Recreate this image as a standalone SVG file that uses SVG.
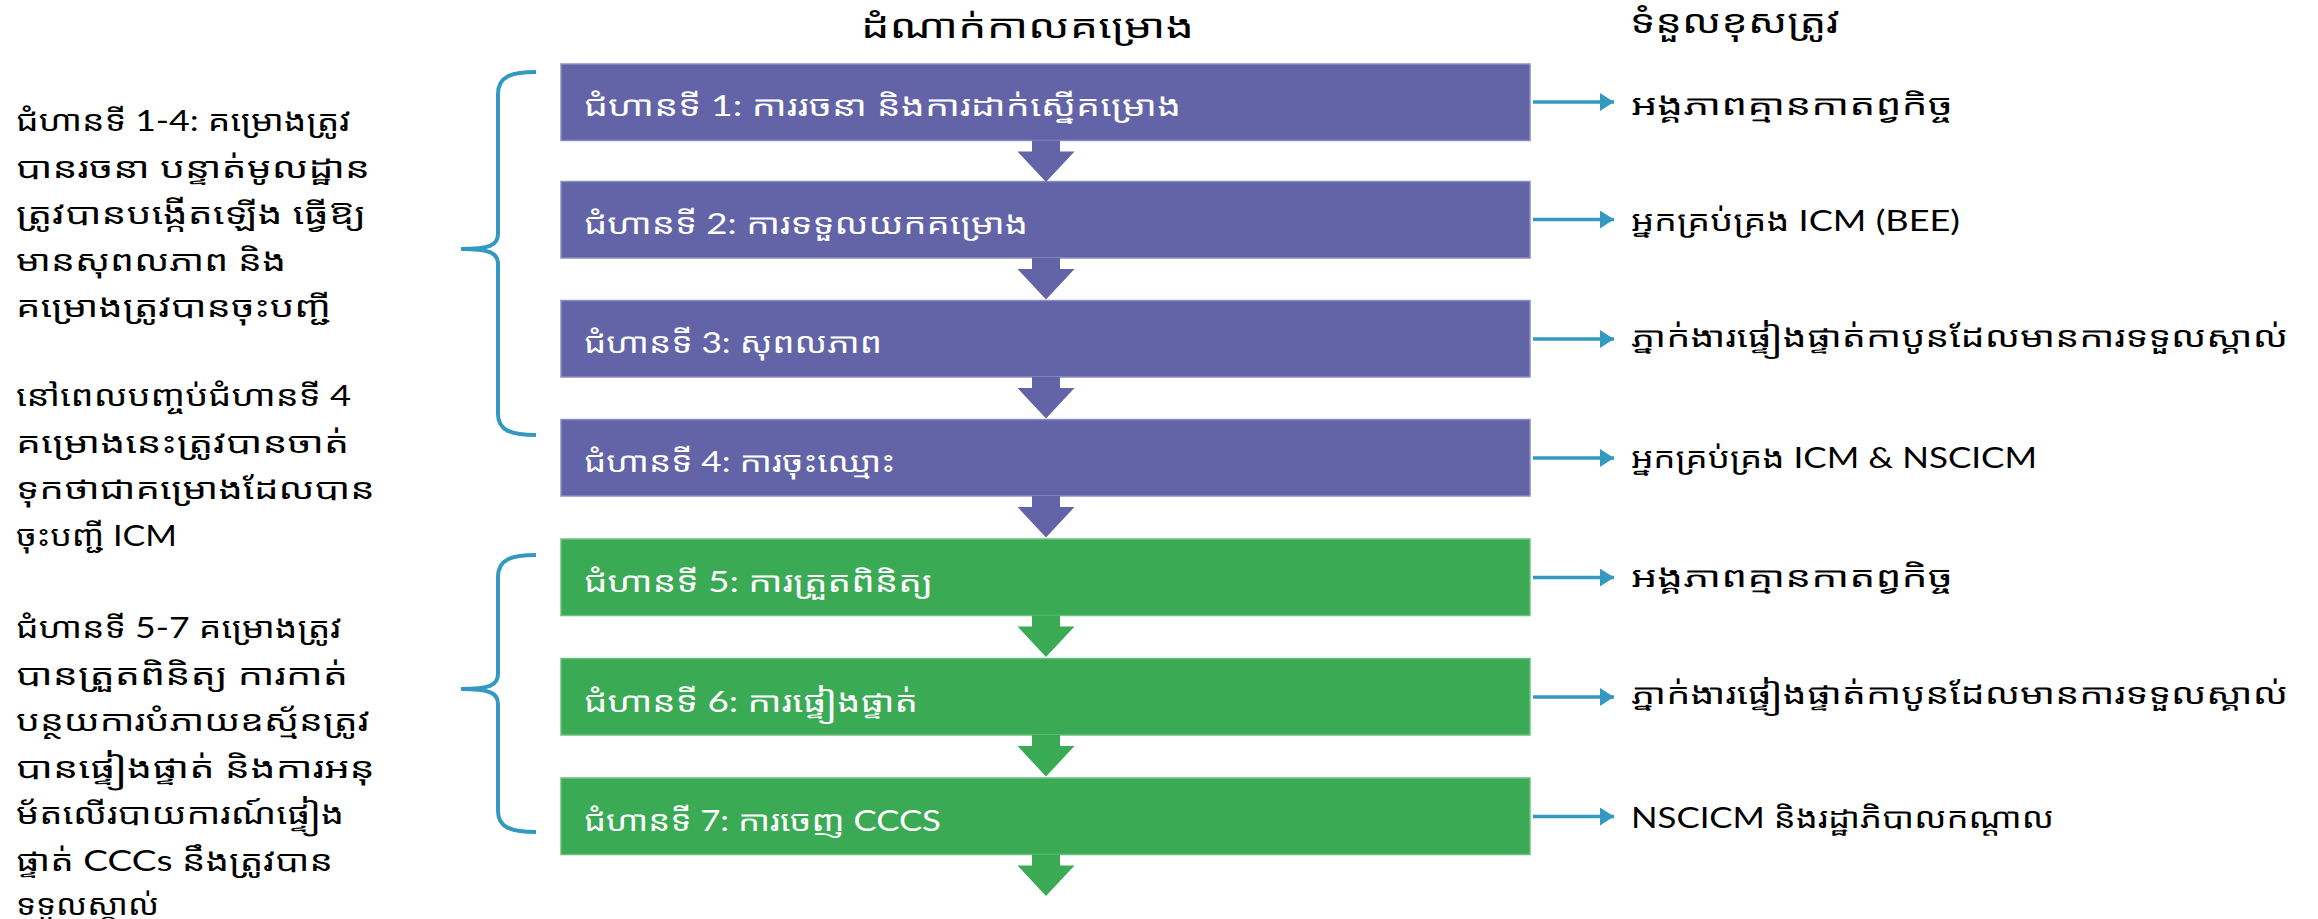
<svg xmlns="http://www.w3.org/2000/svg" width="2318" height="919" viewBox="0 0 2318 919">
<style>
text{font-family:Lato,"Noto Sans Khmer","Khmer OS System","Khmer OS",sans-serif;}
.box-p{fill:#6264A7;stroke:#8C8EC0;stroke-width:1.5}
.box-g{fill:#3AAA55;stroke:#6CC07F;stroke-width:1.5}
.bt{fill:#FFFFFF;font-size:28px}
.rt{fill:#000000;font-size:28px}
.lt{fill:#000000;font-size:29px}
.hd{fill:#000000;font-size:33px}
.dp{fill:#6264A7}
.dg{fill:#3AAA55}
.conn{stroke:#3399C0;stroke-width:3.5;fill:none}
.brace{stroke:#3399C0;stroke-width:4;fill:none;stroke-linecap:butt}
</style>
<defs>
<marker id="ah" markerUnits="userSpaceOnUse" markerWidth="16" markerHeight="18" refX="14" refY="9" orient="auto"><path d="M0,0 L14,9 L0,18 Z" fill="#3399C0"/></marker>
<path id="down" d="M-14,0 H14 V11 H28.5 L0,41.5 L-28.5,11 H-14 Z"/>
</defs>
<rect width="2318" height="919" fill="#FFFFFF"/>
<g id="headers">
<text class="hd" x="861" y="38" textLength="333" lengthAdjust="spacingAndGlyphs">ដំណាក់កាលគម្រោង</text>
<text class="hd" x="1630" y="33" textLength="210" lengthAdjust="spacingAndGlyphs">ទំនួលខុសត្រូវ</text>
</g>
<g id="left-notes">
<text class="lt" x="16" y="131" textLength="335" lengthAdjust="spacingAndGlyphs">ជំហានទី 1-4: គម្រោងត្រូវ</text>
<text class="lt" x="16" y="177.5" textLength="354" lengthAdjust="spacingAndGlyphs">បានរចនា បន្ទាត់មូលដ្ឋាន</text>
<text class="lt" x="16" y="224" textLength="350" lengthAdjust="spacingAndGlyphs">ត្រូវបានបង្កើតឡើង ធ្វើឱ្យ</text>
<text class="lt" x="16" y="270.5" textLength="270" lengthAdjust="spacingAndGlyphs">មានសុពលភាព និង</text>
<text class="lt" x="16" y="317" textLength="315" lengthAdjust="spacingAndGlyphs">គម្រោងត្រូវបានចុះបញ្ជី</text>
<text class="lt" x="16" y="406" textLength="335" lengthAdjust="spacingAndGlyphs">នៅពេលបញ្ចប់ជំហានទី 4</text>
<text class="lt" x="16" y="452.5" textLength="333" lengthAdjust="spacingAndGlyphs">គម្រោងនេះត្រូវបានចាត់</text>
<text class="lt" x="16" y="499" textLength="359" lengthAdjust="spacingAndGlyphs">ទុកថាជាគម្រោងដែលបាន</text>
<text class="lt" x="16" y="545.5" textLength="161" lengthAdjust="spacingAndGlyphs">ចុះបញ្ជី ICM</text>
<text class="lt" x="16" y="638" textLength="326" lengthAdjust="spacingAndGlyphs">ជំហានទី 5-7 គម្រោងត្រូវ</text>
<text class="lt" x="16" y="684.5" textLength="332" lengthAdjust="spacingAndGlyphs">បានត្រួតពិនិត្យ ការកាត់</text>
<text class="lt" x="16" y="731" textLength="354" lengthAdjust="spacingAndGlyphs">បន្ថយការបំភាយឧស្ម័នត្រូវ</text>
<text class="lt" x="16" y="777.5" textLength="359" lengthAdjust="spacingAndGlyphs">បានផ្ទៀងផ្ទាត់ និងការអនុ</text>
<text class="lt" x="16" y="824" textLength="328" lengthAdjust="spacingAndGlyphs">ម័តលើរបាយការណ៍ផ្ទៀង</text>
<text class="lt" x="16" y="870.5" textLength="317" lengthAdjust="spacingAndGlyphs">ផ្ទាត់ CCCs នឹងត្រូវបាន</text>
<text class="lt" x="16" y="915" textLength="143" lengthAdjust="spacingAndGlyphs">ទទួលស្គាល់</text>
</g>
<g id="braces">
<path class="brace" d="M536,72 C512,72 498,76 498,94 L498,234 C498,245 490,249 461,249 C490,249 498,253 498,264 L498,414 C498,431 512,435 536,435"/>
<path class="brace" d="M536,555 C512,555 498,559 498,577 L498,674 C498,685 490,689 461,689 C490,689 498,693 498,704 L498,811 C498,828 512,832 536,832"/>
</g>
<g id="step1"><rect class="box-p" x="561" y="64" width="969" height="76.5"/><text class="bt" x="584" y="116" textLength="597" lengthAdjust="spacingAndGlyphs">ជំហានទី 1: ការរចនា និងការដាក់ស្នើគម្រោង</text></g>
<g id="step2"><rect class="box-p" x="561" y="181.5" width="969" height="76.5"/><text class="bt" x="584" y="233.5" textLength="444" lengthAdjust="spacingAndGlyphs">ជំហានទី 2: ការទទួលយកគម្រោង</text></g>
<g id="step3"><rect class="box-p" x="561" y="300.5" width="969" height="76.5"/><text class="bt" x="584" y="352.5" textLength="298" lengthAdjust="spacingAndGlyphs">ជំហានទី 3: សុពលភាព</text></g>
<g id="step4"><rect class="box-p" x="561" y="419.5" width="969" height="76.5"/><text class="bt" x="584" y="471.5" textLength="311" lengthAdjust="spacingAndGlyphs">ជំហានទី 4: ការចុះឈ្មោះ</text></g>
<g id="step5"><rect class="box-g" x="561" y="539" width="969" height="76.5"/><text class="bt" x="584" y="592" textLength="349" lengthAdjust="spacingAndGlyphs">ជំហានទី 5: ការត្រួតពិនិត្យ</text></g>
<g id="step6"><rect class="box-g" x="561" y="658.5" width="969" height="76.5"/><text class="bt" x="584" y="711.5" textLength="334" lengthAdjust="spacingAndGlyphs">ជំហានទី 6: ការផ្ទៀងផ្ទាត់</text></g>
<g id="step7"><rect class="box-g" x="561" y="778" width="969" height="76.5"/><text class="bt" x="584" y="830.5" textLength="357" lengthAdjust="spacingAndGlyphs">ជំហានទី 7: ការចេញ CCCS</text></g>
<g id="resp1"><text class="rt" x="1631" y="115" textLength="322" lengthAdjust="spacingAndGlyphs">អង្គភាពគ្មានកាតព្វកិច្ច</text></g>
<g id="resp2"><text class="rt" x="1631" y="230.5" textLength="329" lengthAdjust="spacingAndGlyphs">អ្នកគ្រប់គ្រង ICM (BEE)</text></g>
<g id="resp3"><text class="rt" x="1631" y="346.5" textLength="657" lengthAdjust="spacingAndGlyphs">ភ្នាក់ងារផ្ទៀងផ្ទាត់កាបូនដែលមានការទទួលស្គាល់</text></g>
<g id="resp4"><text class="rt" x="1631" y="468" textLength="406" lengthAdjust="spacingAndGlyphs">អ្នកគ្រប់គ្រង ICM &amp; NSCICM</text></g>
<g id="resp5"><text class="rt" x="1631" y="586.5" textLength="322" lengthAdjust="spacingAndGlyphs">អង្គភាពគ្មានកាតព្វកិច្ច</text></g>
<g id="resp6"><text class="rt" x="1631" y="703.5" textLength="657" lengthAdjust="spacingAndGlyphs">ភ្នាក់ងារផ្ទៀងផ្ទាត់កាបូនដែលមានការទទួលស្គាល់</text></g>
<g id="resp7"><text class="rt" x="1631" y="828" textLength="423" lengthAdjust="spacingAndGlyphs">NSCICM និងរដ្ឋាភិបាលកណ្ដាល</text></g>
<g id="connectors">
<use href="#down" class="dp" x="1046" y="140.5"/>
<use href="#down" class="dp" x="1046" y="258"/>
<use href="#down" class="dp" x="1046" y="377"/>
<use href="#down" class="dp" x="1046" y="496"/>
<use href="#down" class="dg" x="1046" y="615.5"/>
<use href="#down" class="dg" x="1046" y="735"/>
<use href="#down" class="dg" x="1046" y="854.5"/>
<line class="conn" x1="1533" y1="102" x2="1614" y2="102" marker-end="url(#ah)"/>
<line class="conn" x1="1533" y1="219.5" x2="1614" y2="219.5" marker-end="url(#ah)"/>
<line class="conn" x1="1533" y1="339" x2="1614" y2="339" marker-end="url(#ah)"/>
<line class="conn" x1="1533" y1="458" x2="1614" y2="458" marker-end="url(#ah)"/>
<line class="conn" x1="1533" y1="577.5" x2="1614" y2="577.5" marker-end="url(#ah)"/>
<line class="conn" x1="1533" y1="697" x2="1614" y2="697" marker-end="url(#ah)"/>
<line class="conn" x1="1533" y1="816.5" x2="1614" y2="816.5" marker-end="url(#ah)"/>
</g>
</svg>
